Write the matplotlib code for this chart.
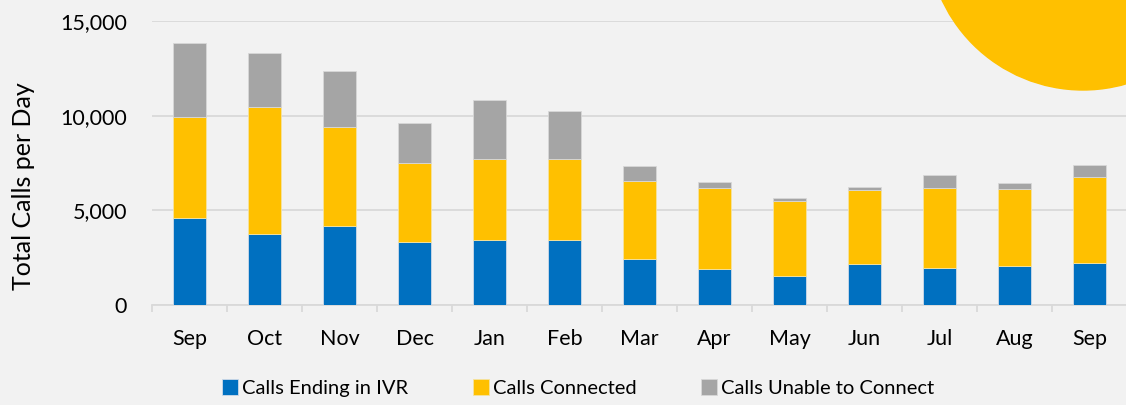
import matplotlib
matplotlib.use('Agg')
from matplotlib import pyplot as plt
from matplotlib.patches import Circle
from matplotlib.ticker import FuncFormatter, FixedLocator
import numpy as np

months = ['Sep', 'Oct', 'Nov', 'Dec', 'Jan', 'Feb', 'Mar', 'Apr', 'May', 'Jun', 'Jul', 'Aug', 'Sep']
ivr = [4580, 3730, 4190, 3310, 3430, 3450, 2430, 1880, 1550, 2150, 1950, 2060, 2220]
connected = [5370, 6750, 5210, 4210, 4260, 4260, 4140, 4320, 3940, 3920, 4250, 4070, 4540]
unable = [3900, 2850, 2960, 2090, 3120, 2560, 760, 300, 160, 150, 650, 310, 650]

labels = ['Calls Ending in IVR', 'Calls Connected', 'Calls Unable to Connect']
colors = ['#0070c0', '#ffc000', '#a5a5a5']

bg = '#f2f2f2'
plt.rcParams['font.family'] = ['Lato', 'DejaVu Sans']

fig = plt.figure(figsize=(11.26, 4.05), dpi=100, facecolor=bg)
ax = fig.add_axes([152 / 1126, 100 / 405, 975 / 1126, 284 / 405])
ax.set_facecolor(bg)

x = np.arange(len(months))
w = 0.44
ivr_a = np.array(ivr)
con_a = np.array(connected)
una_a = np.array(unable)
ax.bar(x, ivr_a, w, color=colors[0], label=labels[0], edgecolor='#d0dbe8', linewidth=0.6, zorder=3)
ax.bar(x, con_a, w, bottom=ivr_a, color=colors[1], label=labels[1], edgecolor='#f5e3a0', linewidth=0.6, zorder=3)
ax.bar(x, una_a, w, bottom=ivr_a + con_a, color=colors[2], label=labels[2], edgecolor='#d8d8d8', linewidth=0.6, zorder=3)

ax.set_xlim(-0.5, len(months) - 0.5)
ax.set_ylim(0, 15000)
ax.set_yticks([0, 5000, 10000, 15000])
ax.yaxis.set_major_formatter(FuncFormatter(lambda v, p: f'{int(v):,}'))
ax.grid(axis='y', color='#d9d9d9', linewidth=1.3, zorder=0)
ax.set_axisbelow(True)

ax.set_xticks(x)
ax.set_xticklabels(months)
ax.xaxis.set_minor_locator(FixedLocator(np.arange(-0.5, len(months), 1.0)))
ax.tick_params(axis='x', which='major', length=0, pad=17, labelsize=15.5, colors='#000000')
ax.tick_params(axis='x', which='minor', length=5, width=1.3, color='#d9d9d9')
ax.tick_params(axis='y', length=0, pad=18, labelsize=15.5)

for s in ['top', 'right', 'left']:
    ax.spines[s].set_visible(False)
ax.spines['bottom'].set_color('#d9d9d9')
ax.spines['bottom'].set_linewidth(1.3)

ax.set_ylabel('Total Calls per Day', fontsize=18)
ax.yaxis.set_label_coords((35 - 152) / 975, (305 - 186) / 284)

fig.legend(loc='center', bbox_to_anchor=(578 / 1126, 1 - 388 / 405), ncol=3, frameon=False,
           fontsize=14.5, handlelength=0.8, handleheight=0.8, handletextpad=0.2, columnspacing=3.2)

# decorative circle in the corner
circ = Circle((10.83, 4.705), 1.555, transform=fig.dpi_scale_trans, color='#ffc000', zorder=10)
fig.patches.append(circ)

fig.savefig('out.png', dpi=100, facecolor=bg)
